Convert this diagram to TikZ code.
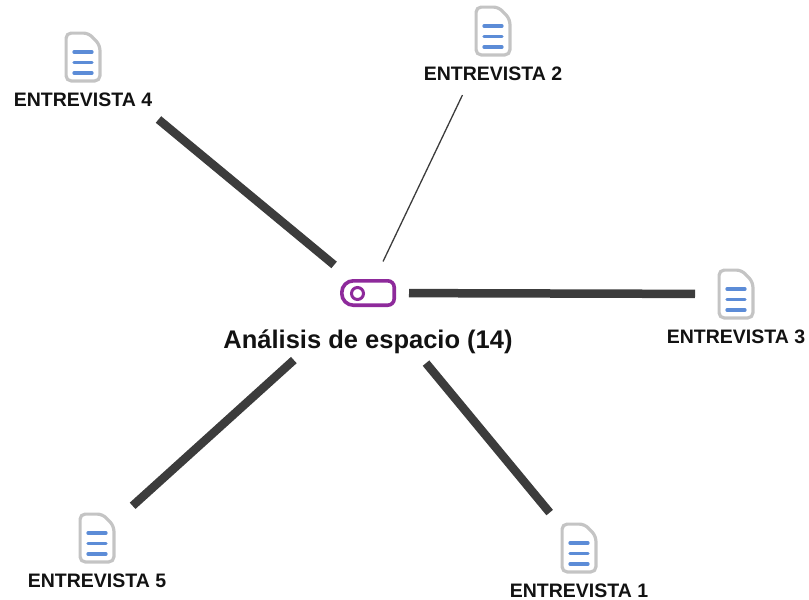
\documentclass[tikz,border=0pt]{standalone}
\usepackage{fontspec}
\setmainfont{Liberation Sans}
\usepackage{xcolor}
\usepackage{tikz}
\usetikzlibrary{positioning}

\definecolor{codepurple}{RGB}{142,42,155}
\definecolor{docgray}{RGB}{196,196,196}
\definecolor{docblue}{RGB}{92,140,215}
\definecolor{linkgray}{RGB}{60,60,60}

\tikzset{
  docnode/.style={minimum width=37pt, minimum height=51pt, inner sep=0pt},
  hubnode/.style={minimum width=56pt, minimum height=28pt, inner sep=0pt},
  doclabel/.style={font=\bfseries\fontsize{19.5}{22}\selectfont, text=black!93, inner sep=0pt},
  hublabel/.style={font=\bfseries\fontsize{25.5}{30}\selectfont, text=black!93, inner sep=0pt},
  link/.style={draw=linkgray, line width=8.5pt},
  thinlink/.style={draw=linkgray, line width=1.3pt}
}

\newcommand{\docicon}[1]{%
  \begin{scope}[shift={(#1.center)}]
    \draw[docgray, line width=3.2pt, rounded corners=5pt]
      (-16.9,0) -- (-16.9,-23.9) -- (5.5,-23.9) -- (16.9,-12) -- (16.9,23.9) -- (-16.9,23.9) -- cycle;
    \foreach \yy in {-5,5.5,16}
      \draw[docblue, line width=3.3pt, line cap=round] (-9,\yy) -- (9,\yy);
  \end{scope}}

\begin{document}
\begin{tikzpicture}[x=1pt, y=-1pt]
\useasboundingbox (0,0) rectangle (809,600);

% code in the middle
\node[hubnode] (hub) at (368,293) {};
\begin{scope}[shift={(hub.center)}]
  \draw[codepurple, line width=3.6pt] (0,-12.2) [rounded corners=6.5pt] -- (26.2,-12.2) -- (26.2,12.2) [rounded corners=11.5pt] -- (-26.2,12.2) -- (-26.2,-12.2) -- (0,-12.2);
  \draw[codepurple, line width=3pt] (-10.5,0.5) circle (6pt);
\end{scope}
\node[hublabel, anchor=base] (hublbl) at ([yshift=-55pt]hub.center) {Análisis de espacio (14)};

% documents
\node[docnode] (d1) at (579,548) {};
\node[docnode] (d2) at (493,31) {};
\node[docnode] (d3) at (736,294) {};
\node[docnode] (d4) at (83,57) {};
\node[docnode] (d5) at (97,538) {};
\foreach \d in {d1,d2,d3,d4,d5} {\docicon{\d}}

\node[doclabel, below=9.5pt of d1] (d1lbl) {ENTREVISTA 1};
\node[doclabel, below=9.5pt of d2] (d2lbl) {ENTREVISTA 2};
\node[doclabel, below=9.5pt of d3] (d3lbl) {ENTREVISTA 3};
\node[doclabel, below=9.5pt of d4] (d4lbl) {ENTREVISTA 4};
\node[doclabel, below=9.5pt of d5] (d5lbl) {ENTREVISTA 5};

% links
\draw[link, shorten <=44pt, shorten >=98pt] (hub.center) -- (d4.center);
\draw[thinlink, shorten <=35pt, shorten >=71pt] (hub.center) -- (d2.center);
\draw[link, shorten <=41pt, shorten >=41pt] (hub.center) -- (d3.center);
\draw[link, shorten <=100pt, shorten >=48pt] (hub.center) -- (d5.center);
\draw[link, shorten <=91pt, shorten >=46pt] (hub.center) -- (d1.center);
\end{tikzpicture}
\end{document}
